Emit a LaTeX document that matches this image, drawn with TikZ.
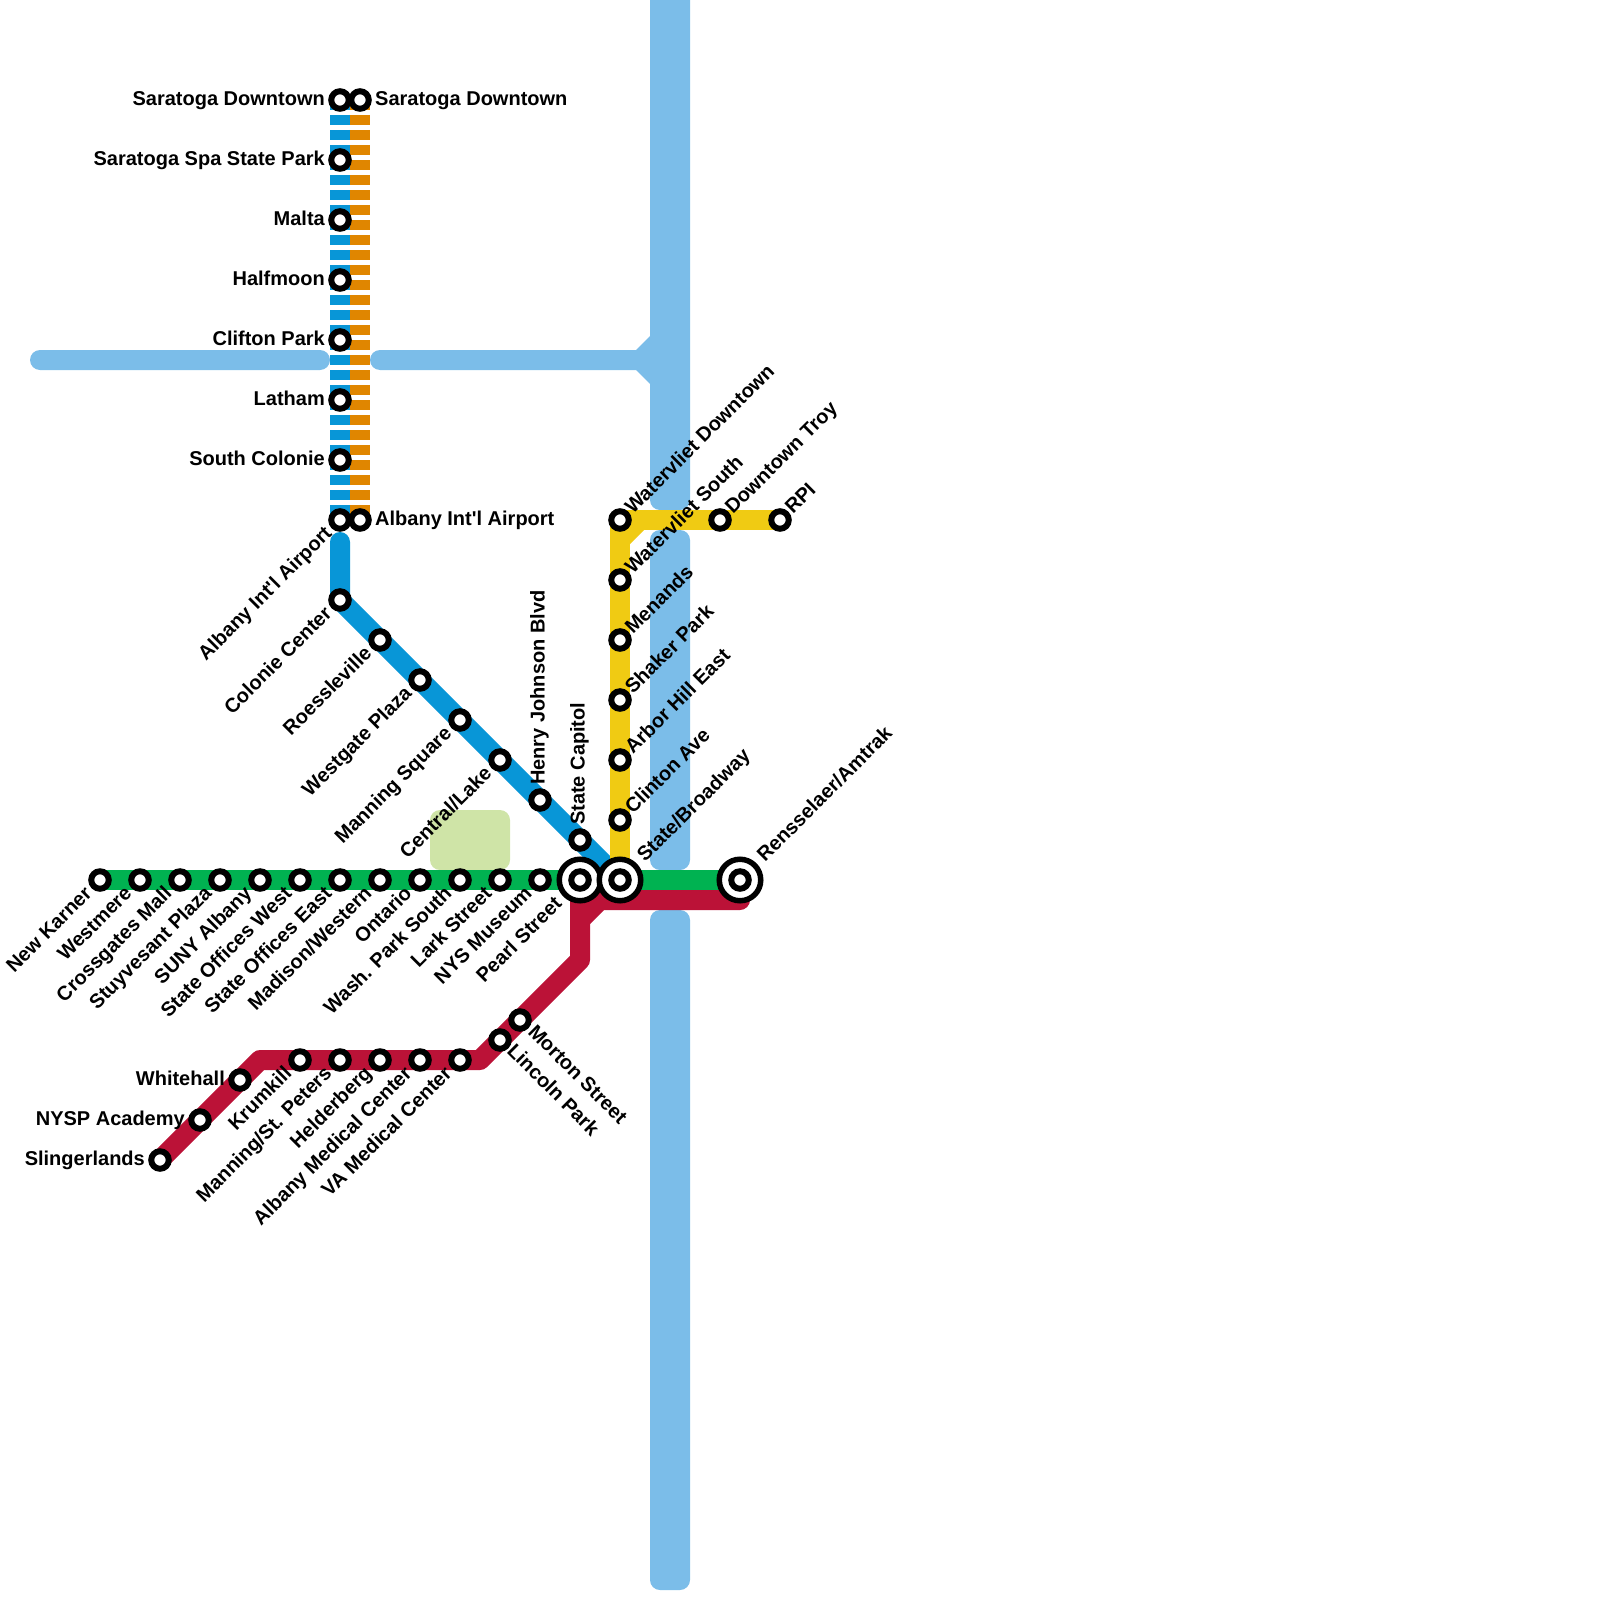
\documentclass[tikz,border=0pt]{standalone}
\usepackage{fontspec}
\setmainfont{Liberation Sans}[Ligatures=TeXOff]
\definecolor{water}{HTML}{7BBDE9}
\definecolor{park}{HTML}{CFE4A7}
\definecolor{lblue}{HTML}{0896D7}
\definecolor{lorange}{HTML}{E08600}
\definecolor{lyellow}{HTML}{F0CB13}
\definecolor{lgreen}{HTML}{00B251}
\definecolor{lred}{HTML}{BB1237}
\tikzset{
  metro/.style={line width=20pt,color=#1,line join=round,line cap=round},
  stripe/.style={line width=20pt,color=#1,dash pattern=on 10pt off 5pt},
  stn/.style={circle,draw=black,fill=white,line width=6pt,minimum size=17.5pt,inner sep=0pt},
  hub/.style={circle,draw=black,fill=white,line width=5.5pt,minimum size=41.5pt,inner sep=0pt},
  lab/.style={font=\fontsize{20}{20}\selectfont\bfseries,inner sep=0pt,text=black},
  ll/.style={lab,anchor=base east},
  lr/.style={lab,anchor=base west},
  dsw/.style={lab,anchor=base east,rotate=45},
  dne/.style={lab,anchor=base west,rotate=45},
  dse/.style={lab,anchor=base west,rotate=-45},
  up/.style={lab,anchor=base west,rotate=90},
}
\begin{document}
\begin{tikzpicture}[x=1pt,y=-1pt]
\useasboundingbox (0,0) rectangle (1600,1600);
% coordinates
\coordinate (bSara) at (340,100);\coordinate (oSara) at (360,100);
\coordinate (bSpa) at (340,160);\coordinate (bMalta) at (340,220);\coordinate (bHalf) at (340,280);
\coordinate (bClif) at (340,340);\coordinate (bLath) at (340,400);\coordinate (bSCol) at (340,460);
\coordinate (bAlb) at (340,520);\coordinate (oAlb) at (360,520);\coordinate (bAlbTop) at (340,542);
\coordinate (bCol) at (340,600);\coordinate (bRoe) at (380,640);\coordinate (bWes) at (420,680);
\coordinate (bMan) at (460,720);\coordinate (bCen) at (500,760);\coordinate (bHen) at (540,800);
\coordinate (bCap) at (580,840);\coordinate (hPearl) at (580,880);\coordinate (hState) at (620,880);
\coordinate (hRens) at (740,880);
\coordinate (yWD) at (620,520);\coordinate (yWS) at (620,580);\coordinate (yMen) at (620,640);
\coordinate (yShk) at (620,700);\coordinate (yArb) at (620,760);\coordinate (yCli) at (620,820);
\coordinate (yTroy) at (720,520);\coordinate (yRPI) at (780,520);\coordinate (yK1) at (620,540);\coordinate (yK2) at (640,520);
\coordinate (gNK) at (100,880);
\coordinate (rEnd) at (740,900);\coordinate (rK1) at (600,900);\coordinate (rK2) at (580,920);\coordinate (rK3) at (580,960);
\coordinate (rK4) at (480,1060);\coordinate (rK5) at (260,1060);\coordinate (rSl) at (160,1160);
% water
\fill[water,rounded corners=10pt] (650,-20) rectangle (690,510);
\fill[water,rounded corners=10pt] (650,530) rectangle (690,870);
\fill[water,rounded corners=10pt] (650,910) rectangle (690,1590);
\fill[water,rounded corners=10pt] (30,350) rectangle (330,370);
\fill[water,rounded corners=10pt] (370,350) rectangle (660,370);
\fill[water] (636,350) -- (650,336) -- (650,384) -- (636,370) -- cycle;
% park
\fill[park,rounded corners=10pt] (430,810) rectangle (510,870);
% lines
\draw[stripe=lblue] (bSara) -- (bAlb);
\draw[stripe=lorange] (oSara) -- (oAlb);
\draw[metro=lblue] (bAlbTop) -- (bCol) -- (hState);
\draw[metro=lyellow,line cap=butt] (hState) -- (yWD);
\draw[metro=lyellow,line cap=butt] (yK1) -- (yK2);
\draw[metro=lyellow] (yWD) -- (yRPI);
\draw[metro=lgreen,line cap=butt] (gNK) -- (hRens);
\draw[metro=lred] (hPearl) -- (rK3) -- (rK4) -- (rK5) -- (rSl);
\draw[metro=lred] (rEnd) -- (rK1) -- (rK2);
\draw[metro=lred,line cap=butt] (hState) -- (rK1);
% stations
\foreach \n in {bSara,oSara,bSpa,bMalta,bHalf,bClif,bLath,bSCol,bAlb,oAlb,bCol,bRoe,bWes,bMan,bCen,bHen,bCap,
  yWD,yWS,yMen,yShk,yArb,yCli,yTroy,yRPI}
  \node[stn] (s\n) at (\n) {};
\foreach \i/\x in {a/100,b/140,c/180,d/220,e/260,f/300,g/340,h/380,i/420,j/460,k/500,l/540}
  \node[stn] (g\i) at (\x,880) {};
\foreach \i/\x/\y in {a/160/1160,b/200/1120,c/240/1080,d/300/1060,e/340/1060,f/380/1060,g/420/1060,h/460/1060,i/500/1040,j/520/1020}
  \node[stn] (r\i) at (\x,\y) {};
\foreach \n in {hPearl,hState,hRens} {
  \node[hub] (o\n) at (\n) {};
  \node[stn] (i\n) at (\n) {};
}
% labels
\node[ll] (t1) at (325,105.3) {Saratoga Downtown};
\node[ll] (t2) at (325,165.3) {Saratoga Spa State Park};
\node[ll] (t3) at (325,225.3) {Malta};
\node[ll] (t4) at (325,285.3) {Halfmoon};
\node[ll] (t5) at (325,345.3) {Clifton Park};
\node[ll] (t6) at (325,405.3) {Latham};
\node[ll] (t7) at (325,465.3) {South Colonie};
\node[lr] (t8) at (375,105.3) {Saratoga Downtown};
\node[lr] (t9) at (375,525.3) {Albany Int'l Airport};
\node[dsw] (t10) at (333,534.5) {Albany Int'l Airport};
\node[dsw] (t11) at (333,614.5) {Colonie Center};
\node[dsw] (t12) at (373,654.5) {Roessleville};
\node[dsw] (t13) at (413,694.5) {Westgate Plaza};
\node[dsw] (t14) at (453,734.5) {Manning Square};
\node[dsw] (t15) at (493,774.5) {Central/Lake};
\node[up] (t16) at (544.5,785) {Henry Johnson Blvd};
\node[up] (t17) at (584.5,825) {State Capitol};
\node[dne] (t18) at (633,515) {Watervliet Downtown};
\node[dne] (t19) at (633,575) {Watervliet South};
\node[dne] (t20) at (633,635) {Menands};
\node[dne] (t21) at (633,695) {Shaker Park};
\node[dne] (t22) at (633,755) {Arbor Hill East};
\node[dne] (t23) at (633,815) {Clinton Ave};
\node[dne] (t24) at (645,863) {State/Broadway};
\node[dne] (t25) at (733,515) {Downtown Troy};
\node[dne] (t26) at (793,515) {RPI};
\node[dne] (t27) at (765,863) {Rensselaer/Amtrak};
\foreach \i/\x/\s in {a/100/New Karner,b/140/Westmere,c/180/Crossgates Mall,d/220/Stuyvesant Plaza,e/260/SUNY Albany,f/300/State Offices West,g/340/State Offices East,h/380/{Madison/Western},i/420/Ontario,j/460/Wash. Park South,k/500/Lark Street,l/540/NYS Museum}
  \node[dsw] (u\i) at (\x-7,894.5) {\s};
\node[dsw] (um) at (563,905) {Pearl Street};
\node[ll] (v1) at (145,1165.3) {Slingerlands};
\node[ll] (v2) at (185,1125.3) {NYSP Academy};
\node[ll] (v3) at (225,1085.3) {Whitehall};
\foreach \i/\x/\s in {d/300/Krumkill,e/340/{Manning/St. Peters},f/380/Helderberg,g/420/Albany Medical Center,h/460/VA Medical Center}
  \node[dsw] (w\i) at (\x-7,1074.5) {\s};
\node[dse] (x1) at (506,1052) {Lincoln Park};
\node[dse] (x2) at (527,1033) {Morton Street};
\end{tikzpicture}
\end{document}
